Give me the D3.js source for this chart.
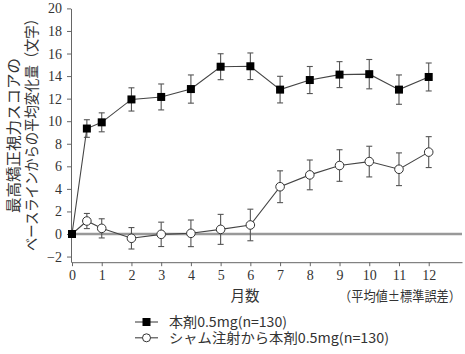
<!DOCTYPE html>
<html lang="ja">
<head>
<meta charset="UTF-8">
<title>最高矯正視力スコアの平均変化量</title>
<script src="https://cdn.jsdelivr.net/npm/d3@7"></script>
<style>
    body { margin: 0; background: #fff; }
    svg { display: block; }
    .tick text { font-family: "Liberation Serif", "DejaVu Serif", serif; font-size: 14px; fill: #333; }
    .jp { font-family: "Noto Sans CJK JP", sans-serif; fill: #333; }
</style>
</head>
<body>
<div id="chart"></div>
<script>
// months
const months = [0, 0.5, 1, 2, 3, 4, 5, 6, 7, 8, 9, 10, 11, 12];

// 本剤0.5mg (n=130): mean and standard error
const drugMean = [0, 9.35, 9.9, 11.93, 12.15, 12.85, 14.83, 14.87, 12.8, 13.65, 14.13, 14.17, 12.8, 13.92];
const drugSE   = [0, 0.78, 0.84, 1.03, 1.15, 1.25, 1.15, 1.18, 1.18, 1.2, 1.15, 1.3, 1.3, 1.24];

// シャム注射から本剤0.5mg (n=130)
const shamMean = [0, 1.15, 0.5, -0.38, -0.03, 0.06, 0.41, 0.8, 4.19, 5.24, 6.07, 6.42, 5.74, 7.26];
const shamSE   = [0, 0.67, 0.85, 0.95, 1.08, 1.18, 1.33, 1.4, 1.41, 1.32, 1.4, 1.36, 1.45, 1.37];

const xTicks = d3.range(0, 13);
const yTicks = d3.range(-2, 21, 2);

const W = 465, H = 354;
const svg = d3.select("#chart").append("svg").attr("width", W).attr("height", H);

const x = d3.scaleLinear().domain([0, 13.12]).range([72, 462]);
const y = d3.scaleLinear().domain([-2.5, 20]).range([262.2, 8.4]);

// zero reference line
svg.append("line")
    .attr("x1", x(0)).attr("x2", x(13.12))
    .attr("y1", y(0)).attr("y2", y(0))
    .attr("stroke", "#999").attr("stroke-width", 2.4);

// axes
const xAxis = svg.append("g")
    .attr("transform", `translate(0,${y(-2.5)})`)
    .call(d3.axisBottom(x).tickValues(xTicks).tickSize(4).tickSizeOuter(0).tickPadding(4));
const yAxis = svg.append("g")
    .attr("transform", `translate(${x(0) - 1},0)`)
    .call(d3.axisLeft(y).tickValues(yTicks).tickSize(4).tickSizeOuter(0).tickPadding(5));
[xAxis, yAxis].forEach(g => {
    g.select(".domain").attr("stroke", "#666");
    g.selectAll(".tick line").attr("stroke", "#666");
});

function drawSeries(mean, se, kind) {
    const pts = months.map((m, i) => ({ m, v: mean[i], e: se[i] }));
    const g = svg.append("g");

    // error bars
    const eb = g.selectAll(".eb").data(pts.filter(d => d.e > 0)).enter().append("g")
        .attr("stroke", "#555").attr("stroke-width", 1.1);
    eb.append("line")
        .attr("x1", d => x(d.m)).attr("x2", d => x(d.m))
        .attr("y1", d => y(d.v + d.e)).attr("y2", d => y(d.v - d.e));
    eb.append("line")
        .attr("x1", d => x(d.m) - 3).attr("x2", d => x(d.m) + 3)
        .attr("y1", d => y(d.v + d.e)).attr("y2", d => y(d.v + d.e));
    eb.append("line")
        .attr("x1", d => x(d.m) - 3).attr("x2", d => x(d.m) + 3)
        .attr("y1", d => y(d.v - d.e)).attr("y2", d => y(d.v - d.e));

    // connecting line
    g.append("path")
        .datum(pts)
        .attr("fill", "none").attr("stroke", "#444").attr("stroke-width", 1.1)
        .attr("d", d3.line().x(d => x(d.m)).y(d => y(d.v)));

    // markers
    if (kind === "square") {
        g.selectAll(".mk").data(pts).enter().append("rect")
            .attr("x", d => x(d.m) - 4).attr("y", d => y(d.v) - 4)
            .attr("width", 8).attr("height", 8).attr("fill", "#000");
    } else {
        g.selectAll(".mk").data(pts.slice(1)).enter().append("circle")
            .attr("cx", d => x(d.m)).attr("cy", d => y(d.v)).attr("r", 4.3)
            .attr("fill", "#fff").attr("stroke", "#333").attr("stroke-width", 1);
    }
}

drawSeries(shamMean, shamSE, "circle");
drawSeries(drugMean, drugSE, "square");

// y axis title (two rotated lines)
const yTitle = [
    { text: "最高矯正視力スコアの", cx: 13, y0: 213, len: 155 },
    { text: "ベースラインからの平均変化量（文字）", cx: 31, y0: 251, len: 239 }
];
yTitle.forEach(t => {
    svg.append("text").attr("class", "jp")
        .attr("transform", `translate(${t.cx + 5.5},${t.y0}) rotate(-90)`)
        .attr("font-size", 15)
        .attr("textLength", t.len).attr("lengthAdjust", "spacingAndGlyphs")
        .text(t.text);
});

// x axis title and note
svg.append("text").attr("class", "jp")
    .attr("x", 245).attr("y", 301).attr("text-anchor", "middle")
    .attr("font-size", 14.5).text("月数");
svg.append("text").attr("class", "jp")
    .attr("x", 339).attr("y", 301).attr("font-size", 13.5)
    .attr("textLength", 122).attr("lengthAdjust", "spacingAndGlyphs")
    .text("（平均値±標準誤差）");

// legend
const legend = [
    { label: "本剤0.5mg(n=130)", kind: "square", len: 118 },
    { label: "シャム注射から本剤0.5mg(n=130)", kind: "circle", len: 220 }
];
legend.forEach((d, i) => {
    const ly = 322 + i * 15.8;
    const g = svg.append("g");
    g.append("line").attr("x1", 135).attr("x2", 158).attr("y1", ly).attr("y2", ly)
        .attr("stroke", "#444").attr("stroke-width", 1.1);
    if (d.kind === "square") {
        g.append("rect").attr("x", 146.5 - 4).attr("y", ly - 4).attr("width", 8).attr("height", 8).attr("fill", "#000");
    } else {
        g.append("circle").attr("cx", 146.5).attr("cy", ly).attr("r", 4)
            .attr("fill", "#fff").attr("stroke", "#333");
    }
    g.append("text").attr("class", "jp")
        .attr("x", 169).attr("y", ly + 5).attr("font-size", 13.5)
        .attr("textLength", d.len).attr("lengthAdjust", "spacingAndGlyphs")
        .text(d.label);
});
</script>
</body>
</html>
